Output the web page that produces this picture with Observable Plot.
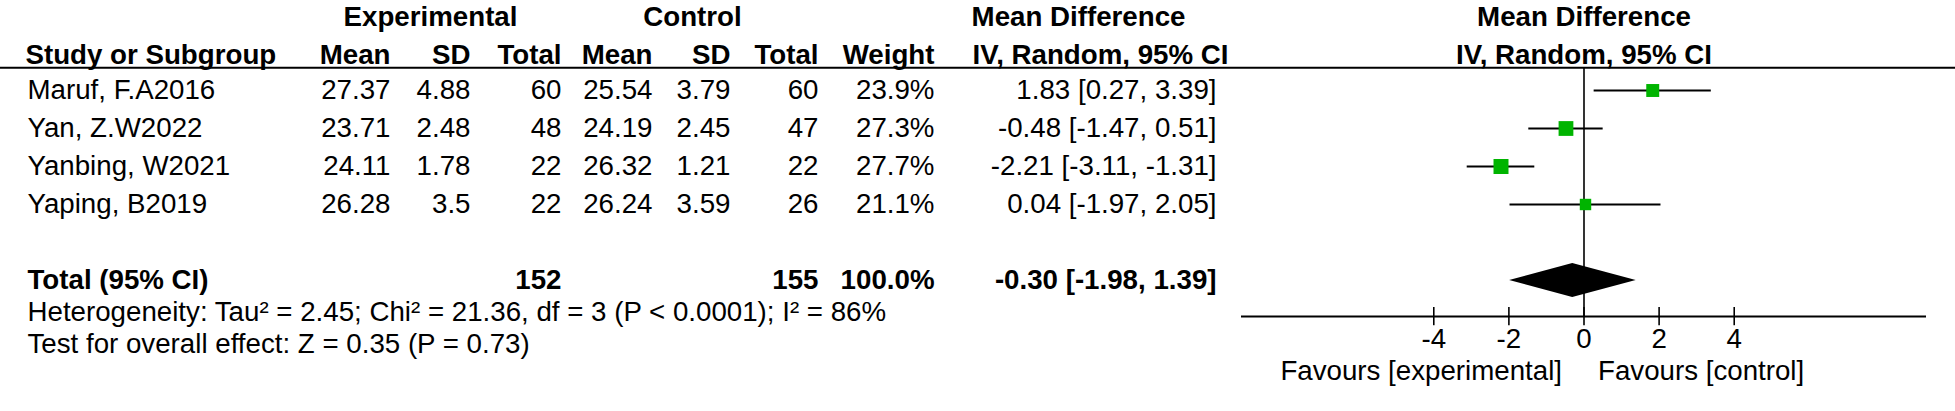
<!DOCTYPE html>
<html><head><meta charset="utf-8">
<script src="https://cdn.jsdelivr.net/npm/d3@7"></script>
<script src="https://cdn.jsdelivr.net/npm/@observablehq/plot@0.6"></script>
<style>html,body{margin:0;padding:0;background:#fff;}</style>
</head><body><div id="chart"></div>
<script>
// ---- data ----
const studies   = ["Maruf, F.A2016", "Yan, Z.W2022", "Yanbing, W2021", "Yaping, B2019"];
const expMean   = [27.37, 23.71, 24.11, 26.28];
const expSD     = [4.88, 2.48, 1.78, 3.5];
const expN      = [60, 48, 22, 22];
const ctrlMean  = [25.54, 24.19, 26.32, 26.24];
const ctrlSD    = [3.79, 2.45, 1.21, 3.59];
const ctrlN     = [60, 47, 22, 26];
const weights   = [23.9, 27.3, 27.7, 21.1];
const md        = [1.83, -0.48, -2.21, 0.04];
const ciLow     = [0.27, -1.47, -3.11, -1.97];
const ciHigh    = [3.39, 0.51, -1.31, 2.05];
const totalN    = [152, 155];
const totalWeight = 100.0;
const totalMD   = [-0.30, -1.98, 1.39]; // estimate, low, high
const hetStats  = {tau2: "2.45", chi2: "21.36", df: 3, p: "< 0.0001", i2: 86};
const overall   = {z: "0.35", p: "0.73"};
const tickValues = [-4, -2, 0, 2, 4];
const xDomain   = [-9.12, 9.12];

// ---- layout (pixels / row units) ----
const COL = {name: 27, head: 25, expMean: 390, expSD: 470, expN: 561, ctrlMean: 652, ctrlSD: 730, ctrlN: 818,
             weight: 934, ci: 1216, ciHead: 1228, expCenter: 430, ctrlCenter: 692, mdCenter: 1078};
const Y = {head1: -0.92, head2: 0.08, rule: 0.40, total: 6, het: 6.84, test: 7.68, axis: 6.95, tickLab: 7.55, fav: 8.39};
const green = "#00b400";

const rows = studies.map((name, i) => ({
  name, row: i + 1,
  em: String(expMean[i]), es: String(expSD[i]), en: String(expN[i]),
  cm: String(ctrlMean[i]), cs: String(ctrlSD[i]), cn: String(ctrlN[i]),
  w: weights[i], wt: weights[i].toFixed(1) + "%",
  md: md[i], lo: ciLow[i], hi: ciHigh[i],
  ci: `${md[i].toFixed(2)} [${ciLow[i].toFixed(2)}, ${ciHigh[i].toFixed(2)}]`
}));

const fmt = v => v.toFixed(2);
const diamond = [
  {x: totalMD[1], y1: Y.total, y2: Y.total},
  {x: totalMD[0], y1: Y.total - 0.45, y2: Y.total + 0.45},
  {x: totalMD[2], y1: Y.total, y2: Y.total}
];

const col = (key, dx, anchor = "end", extra = {}) =>
  Plot.text(rows, {y: "row", text: key, frameAnchor: "left", dx, textAnchor: anchor, ...extra});
const lbl = (txt, y, dx, anchor, extra = {}) =>
  Plot.text([txt], {y: () => y, text: d => d, frameAnchor: "left", dx, textAnchor: anchor, ...extra});

const B = {fontWeight: "bold"};

const chart = Plot.plot({
  width: 1955, height: 411,
  marginLeft: 0, marginRight: 0, marginTop: 0, marginBottom: 0,
  x: {domain: xDomain, range: [1241, 1926], axis: null},
  y: {domain: [1, 4], range: [90, 204], axis: null},
  r: {type: "linear", domain: [0, 27.7], range: [0, 8.46]},
  style: {fontFamily: "'Liberation Sans', Arial, sans-serif", fontSize: "27.7px", background: "#fff", color: "#000"},
  marks: [
    // header rule
    Plot.ruleY([Y.rule], {stroke: "#000", strokeWidth: 2}),
    // header row 1
    lbl("Experimental", Y.head1, COL.expCenter, "middle", B),
    lbl("Control", Y.head1, COL.ctrlCenter, "middle", B),
    lbl("Mean Difference", Y.head1, COL.mdCenter, "middle", B),
    Plot.text(["Mean Difference"], {x: () => 0, y: () => Y.head1, text: d => d, fontWeight: "bold"}),
    // header row 2
    lbl("Study or Subgroup", Y.head2, COL.head, "start", B),
    lbl("Mean", Y.head2, COL.expMean, "end", B),
    lbl("SD", Y.head2, COL.expSD, "end", B),
    lbl("Total", Y.head2, COL.expN, "end", B),
    lbl("Mean", Y.head2, COL.ctrlMean, "end", B),
    lbl("SD", Y.head2, COL.ctrlSD, "end", B),
    lbl("Total", Y.head2, COL.ctrlN, "end", B),
    lbl("Weight", Y.head2, COL.weight, "end", B),
    lbl("IV, Random, 95% CI", Y.head2, COL.ciHead, "end", B),
    Plot.text(["IV, Random, 95% CI"], {x: () => 0, y: () => Y.head2, text: d => d, fontWeight: "bold"}),
    // study rows
    col("name", COL.name, "start"),
    col("em", COL.expMean), col("es", COL.expSD), col("en", COL.expN),
    col("cm", COL.ctrlMean), col("cs", COL.ctrlSD), col("cn", COL.ctrlN),
    col("wt", COL.weight), col("ci", COL.ci),
    // total row
    lbl("Total (95% CI)", Y.total, COL.name, "start", B),
    lbl(String(totalN[0]), Y.total, COL.expN, "end", B),
    lbl(String(totalN[1]), Y.total, COL.ctrlN, "end", B),
    lbl(totalWeight.toFixed(1) + "%", Y.total, COL.weight, "end", B),
    lbl(`${fmt(totalMD[0])} [${fmt(totalMD[1])}, ${fmt(totalMD[2])}]`, Y.total, COL.ci, "end", B),
    lbl(`Heterogeneity: Tau² = ${hetStats.tau2}; Chi² = ${hetStats.chi2}, df = ${hetStats.df} (P ${hetStats.p}); I² = ${hetStats.i2}%`, Y.het, COL.name, "start"),
    lbl(`Test for overall effect: Z = ${overall.z} (P = ${overall.p})`, Y.test, COL.name, "start"),
    // forest: zero line, axis, ticks
    Plot.ruleX([0], {y1: Y.rule, y2: Y.axis, stroke: "#000", strokeWidth: 1.6}),
    Plot.ruleY([Y.axis], {x1: xDomain[0], x2: xDomain[1], stroke: "#000", strokeWidth: 2}),
    Plot.ruleX(tickValues, {y1: Y.axis - 0.24, y2: Y.axis + 0.24, stroke: "#000", strokeWidth: 1.6}),
    Plot.text(tickValues, {x: d => d, y: () => Y.tickLab, text: d => String(d)}),
    Plot.text(["Favours [experimental]"], {x: () => 0, y: () => Y.fav, text: d => d, dx: -22, textAnchor: "end"}),
    Plot.text(["Favours [control]"], {x: () => 0, y: () => Y.fav, text: d => d, dx: 14, textAnchor: "start"}),
    // CIs and squares
    Plot.ruleY(rows, {y: "row", x1: "lo", x2: "hi", stroke: "#000", strokeWidth: 2}),
    Plot.dot(rows, {x: "md", y: "row", r: "w", symbol: "square", fill: green, stroke: "none"}),
    // pooled diamond
    Plot.areaY(diamond, {x: "x", y1: "y1", y2: "y2", fill: "#000"})
  ]
});
document.getElementById("chart").appendChild(chart);
</script>
</body></html>
